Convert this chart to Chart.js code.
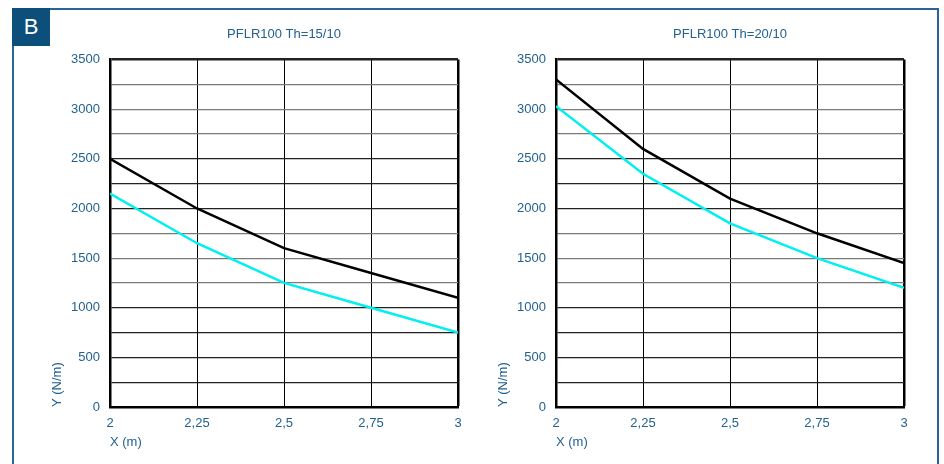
<!DOCTYPE html>
<html>
<head>
<meta charset="utf-8">
<script src="https://cdn.jsdelivr.net/npm/chart.js@4"></script>
<style>
  html, body { margin: 0; padding: 0; background: #fff; width: 944px; height: 464px; overflow: hidden; font-family: "Liberation Sans", Arial, sans-serif; }
  #frame { position: absolute; left: 12px; top: 8px; width: 927px; height: 470px; border: 2px solid #2a6496; box-sizing: border-box; }
  #badge { position: absolute; left: 12px; top: 8px; width: 38px; height: 38px; background: #0b4f7a; color: #fff; font-size: 22px; line-height: 38px; text-align: center; }
  .wrap { position: absolute; top: 20px; width: 488px; height: 444px; }
  #w1 { left: 40px; }
  #w2 { left: 486px; }
</style>
</head>
<body>
<div id="frame"></div>
<div id="badge">B</div>
<div class="wrap" id="w1"><canvas id="c1"></canvas></div>
<div class="wrap" id="w2"><canvas id="c2"></canvas></div>
<script>
const xValues = [2, 2.25, 2.5, 2.75, 3];
const xTickLabels = ["2", "2,25", "2,5", "2,75", "3"];
const titles = ["PFLR100 Th=15/10", "PFLR100 Th=20/10"];
const left_black = [2500, 2000, 1600, 1350, 1100];
const left_cyan  = [2150, 1650, 1250, 1000, 750];
const right_black = [3300, 2600, 2100, 1750, 1450];
const right_cyan  = [3030, 2350, 1850, 1500, 1200];
const xAxisTitle = "X (m)";
const yAxisTitle = "Y (N/m)";

const blue = '#23618f';
const font = { family: '"Liberation Sans", Arial, sans-serif', size: 13 };
const grayLevels = [1250, 1500, 1750, 2750, 3000, 3250];

function makeChart(id, title, black, cyan) {
  const toPts = arr => arr.map((v, i) => ({ x: xValues[i], y: v }));
  return new Chart(document.getElementById(id), {
    type: 'line',
    data: {
      datasets: [
        { data: toPts(black), borderColor: '#000', borderWidth: 2.5, pointRadius: 0, tension: 0, fill: false },
        { data: toPts(cyan), borderColor: '#00f0f0', borderWidth: 2.5, pointRadius: 0, tension: 0, fill: false }
      ]
    },
    options: {
      responsive: true,
      maintainAspectRatio: false,
      animation: false,
      layout: { padding: 0 },
      plugins: {
        legend: { display: false },
        tooltip: { enabled: false },
        title: { display: true, text: title, color: blue, font: { family: font.family, size: 13, weight: 'normal' }, padding: { top: 7, bottom: 17 } }
      },
      scales: {
        x: {
          type: 'linear', min: 2, max: 3,
          afterFit: s => { s.height = 57; },
          ticks: {
            stepSize: 0.25, color: blue, font: font, padding: 9, maxRotation: 0,
            callback: (v) => { const i = xValues.indexOf(Math.round(v * 100) / 100); return i >= 0 ? xTickLabels[i] : ''; }
          },
          grid: { color: '#000', lineWidth: c => (c.tick && c.tick.value === 3 ? 2.5 : 1), drawTicks: false },
          border: { display: true, color: '#000', width: 2.5 },
          title: { display: true, text: xAxisTitle, color: blue, font: font, align: 'start', padding: { top: 0, bottom: 14 } }
        },
        y: {
          min: 0, max: 3500,
          afterFit: s => { s.width = 70; },
          ticks: {
            stepSize: 250, color: blue, font: font, padding: 10,
            callback: v => (v % 500 === 0 ? String(v) : '')
          },
          grid: {
            drawTicks: false,
            color: c => (c.tick && grayLevels.includes(c.tick.value) ? '#7a7a7a' : '#222'),
            lineWidth: c => (c.tick && c.tick.value === 3500 ? 2.5 : 1.2)
          },
          border: { display: true, color: '#000', width: 2.5 },
          title: { display: true, text: yAxisTitle, color: blue, font: font, align: 'start', padding: { top: 10, bottom: 0 } }
        },
        yRight: {
          position: 'right', min: 0, max: 3500,
          afterFit: s => { s.width = 70; },
          ticks: { display: false },
          grid: { display: false, drawTicks: false },
          border: { display: false }
        }
      }
    }
  });
}
makeChart('c1', titles[0], left_black, left_cyan);
makeChart('c2', titles[1], right_black, right_cyan);
</script>
</body>
</html>
